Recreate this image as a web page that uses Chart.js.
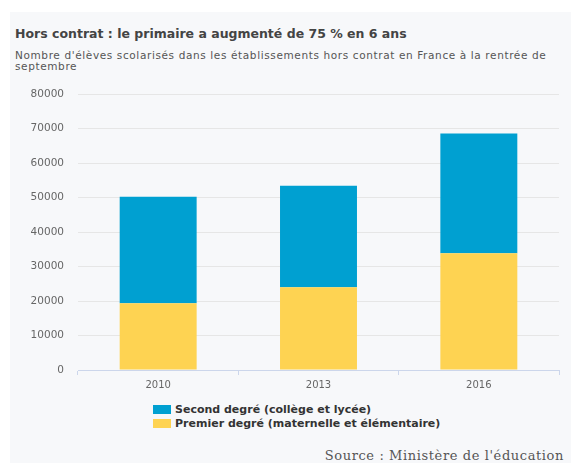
<!DOCTYPE html>
<html>
<head>
<meta charset="utf-8">
<script src="https://cdn.jsdelivr.net/npm/chart.js@4"></script>
<style>
  body { margin: 0; background: #fff; width: 571px; height: 463px; overflow: hidden; font-family: "DejaVu Sans", sans-serif; }
  #panel { position: absolute; left: 10px; top: 12px; width: 561px; height: 451px; background: #f7f8fa; }
  #title { position: absolute; left: 5px; top: 14px; font-size: 12.5px; font-weight: bold; color: #444; white-space: nowrap; }
  #subtitle { position: absolute; left: 5px; top: 38px; width: 548px; font-size: 10.5px; letter-spacing: 0.62px; line-height: 10.5px; color: #555; }
  #chart-box { position: absolute; left: 0; top: 62px; width: 561px; height: 321px; }
  #legend { position: absolute; left: 143px; top: 391px; font-size: 11px; font-weight: bold; color: #333; }
  #legend div { height: 14px; line-height: 14px; white-space: nowrap; }
  #legend span { display: inline-block; width: 18px; height: 9px; margin-right: 4px; vertical-align: -1px; }
  #source { position: absolute; right: 7px; bottom: 0px; font-family: "DejaVu Serif", serif; font-size: 13px; letter-spacing: 0.6px; color: #555; }
</style>
</head>
<body>
<div id="panel">
  <div id="title">Hors contrat : le primaire a augmenté de 75 % en 6 ans</div>
  <div id="subtitle">Nombre d'élèves scolarisés dans les établissements hors contrat en France à la rentrée de septembre</div>
  <div id="chart-box"><canvas id="chart"></canvas></div>
  <div id="legend"></div>
  <div id="source">Source : Ministère de l'éducation</div>
</div>
<script>
// Données
const annees = ['2010', '2013', '2016'];
const premierDegre = [19400, 24000, 33900];
const secondDegre = [30900, 29500, 34700];
const ticksY = [0, 10000, 20000, 30000, 40000, 50000, 60000, 70000, 80000];

const ctx = document.getElementById('chart').getContext('2d');
const chart = new Chart(ctx, {
    type: 'bar',
    data: {
        labels: annees,
        datasets: [{
            label: 'Premier degré (maternelle et élémentaire)',
            data: premierDegre,
            backgroundColor: '#fed352'
        }, {
            label: 'Second degré (collège et lycée)',
            data: secondDegre,
            backgroundColor: '#00a0d1'
        }]
    },
    options: {
        responsive: true,
        maintainAspectRatio: false,
        animation: false,
        categoryPercentage: 0.8,
        barPercentage: 0.6,
        plugins: {
            legend: { display: false },
            tooltip: { enabled: false }
        },
        layout: {
            padding: { top: 0, right: 12, bottom: 0, left: 0 }
        },
        scales: {
            x: {
                stacked: true,
                border: { color: '#ccd6eb' },
                grid: { drawOnChartArea: false, color: '#ccd6eb', tickLength: 5 },
                ticks: { color: '#666', font: { family: 'DejaVu Sans', size: 10 }, padding: 4 },
                afterFit: function(scale) { scale.height = 25; }
            },
            y: {
                stacked: true,
                min: 0,
                max: 80000,
                border: { display: false },
                grid: { color: '#e6e6e6', drawTicks: false },
                afterBuildTicks: function(scale) {
                    scale.ticks = ticksY.map(v => ({ value: v }));
                },
                ticks: {
                    color: '#666',
                    font: { family: 'DejaVu Sans', size: 10.5 },
                    padding: 14,
                    callback: function(value) { return String(value); }
                },
                afterFit: function(scale) { scale.width = 68; }
            }
        }
    }
});

// Légende HTML (ordre inversé : second degré en haut)
const legend = document.getElementById('legend');
chart.data.datasets.slice().reverse().forEach(ds => {
    const row = document.createElement('div');
    row.innerHTML = '<span style="background:' + ds.backgroundColor + '"></span>' + ds.label;
    legend.appendChild(row);
});
</script>
</body>
</html>
